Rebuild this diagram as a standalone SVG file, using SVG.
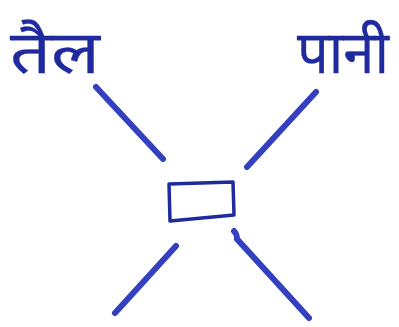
<svg xmlns="http://www.w3.org/2000/svg" width="399" height="327" viewBox="0 0 399 327">
<style>
.lbl{font-family:"Noto Sans","Noto Sans Devanagari",sans-serif;font-size:60px;fill:#1f2a9e;stroke:#1f2a9e;stroke-width:0.3}
.ln{stroke:#3340c0;stroke-width:6;stroke-linecap:round;fill:none}
.box{stroke:#1f2a9e;stroke-width:3.5;fill:none;stroke-linejoin:round}
</style>
<rect width="399" height="327" fill="#fff"/>
<g id="oil"><text class="lbl" x="10" y="73" textLength="90" lengthAdjust="spacingAndGlyphs">तैल</text></g>
<g id="water"><text class="lbl" x="297" y="73" textLength="92" lengthAdjust="spacingAndGlyphs">पानी</text></g>
<g id="box"><path class="box" d="M169,184 L233,182 L234,215 L170,221 Z"/></g>
<g id="connectors">
<path class="ln" d="M96,87 L163,159"/>
<path class="ln" d="M316,92 L247,167"/>
<path class="ln" d="M176,246 L115,313"/>
<path class="ln" d="M234,231 Q237,234 237,239 L309,318"/>
</g>
</svg>
